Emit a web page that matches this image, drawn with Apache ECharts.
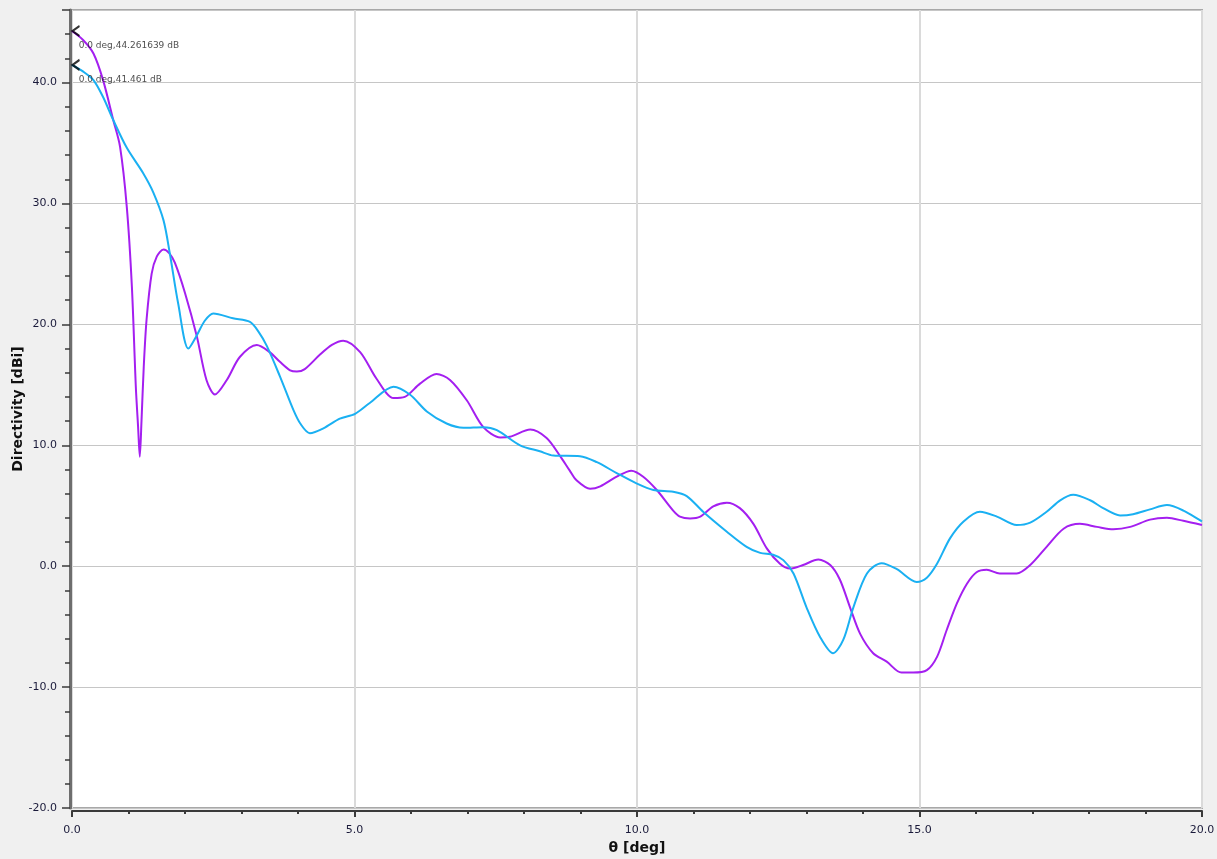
<!DOCTYPE html>
<html>
<head>
<meta charset="utf-8">
<script src="https://cdn.jsdelivr.net/npm/echarts@6/dist/echarts.min.js"></script>
<style>
html,body{margin:0;padding:0;background:#f0f0f0;}
#chart{width:1217px;height:859px;}
</style>
</head>
<body>
<div id="chart"></div>
<script>
// Purple curve
const thetaPurple = [0, 0.2, 0.38, 0.55, 0.73, 0.85, 0.97, 1.06, 1.13, 1.17, 1.20, 1.23, 1.27, 1.32, 1.41, 1.50, 1.62, 1.72, 1.82, 2.0,
  2.21, 2.38, 2.53, 2.74, 2.97, 3.27, 3.5, 3.68, 3.86, 3.98, 4.12, 4.39, 4.6, 4.80, 5.10, 5.39, 5.69, 5.89, 6.16, 6.45,
  6.69, 6.99, 7.28, 7.58, 7.75, 8.11, 8.40, 8.64, 8.81, 8.93, 9.17, 9.35, 9.64, 9.90, 10.11, 10.35, 10.64, 10.76, 10.94, 11.12,
  11.35, 11.59, 11.82, 12.06, 12.30, 12.53, 12.71, 12.94, 13.21, 13.42, 13.59, 13.77, 13.95, 14.18, 14.42, 14.68, 14.89, 15.13, 15.31, 15.48,
  15.66, 15.84, 16.01, 16.19, 16.42, 16.72, 16.96, 17.25, 17.55, 17.84, 18.14, 18.43, 18.73, 19.08, 19.38, 19.67, 20.0];
const dirPurple = [44.26, 43.5, 42.4, 40.2, 36.9, 34.7, 29.7, 23.1, 14.8, 11.5, 9.05, 12.0, 16.5, 20.4, 24.2, 25.6, 26.2, 25.9, 25.1, 22.6,
  19.0, 15.4, 14.2, 15.4, 17.3, 18.3, 17.7, 16.9, 16.2, 16.1, 16.3, 17.5, 18.3, 18.65, 17.7, 15.5, 13.9, 14.0, 15.1, 15.9,
  15.4, 13.7, 11.5, 10.65, 10.7, 11.3, 10.6, 9.1, 7.9, 7.1, 6.4, 6.6, 7.4, 7.9, 7.4, 6.3, 4.6, 4.1, 3.95, 4.1,
  4.95, 5.25, 4.8, 3.5, 1.45, 0.2, -0.2, 0.1, 0.55, 0.1, -1.1, -3.4, -5.6, -7.2, -7.9, -8.8, -8.8, -8.6, -7.5, -5.3,
  -3.1, -1.45, -0.5, -0.3, -0.6, -0.6, 0.1, 1.6, 3.1, 3.5, 3.25, 3.05, 3.25, 3.85, 4.0, 3.75, 3.4];

// Blue curve
const thetaBlue = [0, 0.2, 0.38, 0.55, 0.73, 0.97, 1.26, 1.44, 1.62, 1.73, 1.88, 2.06, 2.21, 2.35, 2.50, 2.85, 3.15, 3.30, 3.45, 3.68,
  3.92, 4.04, 4.21, 4.45, 4.74, 5.01, 5.27, 5.69, 5.98, 6.28, 6.63, 6.93, 7.28, 7.52, 7.93, 8.28, 8.52, 8.99, 9.29, 9.64,
  9.99, 10.29, 10.64, 10.88, 11.17, 11.59, 11.94, 12.18, 12.41, 12.59, 12.77, 13.0, 13.24, 13.47, 13.65, 13.83, 14.07, 14.33, 14.60, 14.95,
  15.13, 15.31, 15.54, 15.78, 16.07, 16.37, 16.72, 16.96, 17.25, 17.49, 17.72, 18.02, 18.25, 18.55, 18.78, 19.08, 19.38, 19.67, 20.0];
const dirBlue = [41.46, 40.9, 40.2, 38.8, 36.9, 34.6, 32.5, 30.9, 28.6, 25.9, 21.7, 18.0, 19.1, 20.3, 20.9, 20.5, 20.2, 19.4, 18.2, 15.7,
  12.9, 11.8, 11.0, 11.4, 12.2, 12.6, 13.5, 14.85, 14.2, 12.8, 11.8, 11.45, 11.5, 11.25, 10.0, 9.5, 9.15, 9.1, 8.6, 7.7,
  6.85, 6.3, 6.15, 5.8, 4.5, 2.85, 1.6, 1.1, 0.95, 0.5, -0.6, -3.4, -5.85, -7.2, -6.1, -3.4, -0.6, 0.25, -0.25, -1.3,
  -0.95, 0.2, 2.3, 3.7, 4.5, 4.1, 3.4, 3.6, 4.5, 5.45, 5.9, 5.45, 4.8, 4.2, 4.3, 4.7, 5.05, 4.6, 3.7];

// Peak markers
const markerTheta = [0.0, 0.0];
const markerValue = ['44.261639', '41.461'];

const purple = '#a41ff0';
const blue = '#1ab0f2';

function pairs(xs, ys) { return xs.map((x, i) => [x, ys[i]]); }

const chart = echarts.init(document.getElementById('chart'));
const font = 'DejaVu Sans';
chart.setOption({
  animation: false,
  backgroundColor: '#f0f0f0',
  grid: {
    left: 72, right: 15, top: 10, bottom: 51, containLabel: false, outerBoundsMode: 'none',
    show: true, backgroundColor: '#ffffff', borderColor: '#a8a8a8', borderWidth: 2
  },
  xAxis: {
    type: 'value', min: 0, max: 20, interval: 5, offset: 3,
    name: 'θ [deg]', nameLocation: 'middle', nameGap: 30, nameMoveOverlap: false,
    nameTextStyle: { fontFamily: font, fontWeight: 'bold', fontSize: 14, color: '#111' },
    axisLine: { show: true, onZero: false, lineStyle: { color: '#3a3a3a', width: 2 } },
    axisTick: { show: true, length: 6, lineStyle: { color: '#3a3a3a', width: 2 } },
    minorTick: { show: true, splitNumber: 5, length: 3, lineStyle: { color: '#3a3a3a', width: 2 } },
    axisLabel: { margin: 14, fontFamily: font, fontSize: 11, color: '#1a1a3a', formatter: v => v.toFixed(1) },
    splitLine: { show: true, lineStyle: { color: '#dadada', width: 2 } }
  },
  yAxis: [{
    type: 'value', min: -20, max: 46, interval: 10, offset: 2,
    name: 'Directivity [dBi]', nameLocation: 'middle', nameGap: 45, nameRotate: 90, nameMoveOverlap: false,
    nameTextStyle: { fontFamily: font, fontWeight: 'bold', fontSize: 14, color: '#111' },
    axisLine: { show: true, onZero: false, lineStyle: { color: '#6e6e6e', width: 3 } },
    axisTick: { show: true, length: 8, lineStyle: { color: '#3a3a3a', width: 1.5 } },
    axisLabel: { margin: 13, fontFamily: font, fontSize: 11, color: '#1a1a3a',
      formatter: v => (Math.abs(v % 10) < 1e-9 ? v.toFixed(1) : '') },
    splitLine: { show: true, lineStyle: { color: '#c6c6c6', width: 1 } }
  }, {
    type: 'value', min: -20, max: 46, interval: 2, offset: 2, position: 'left',
    axisLine: { show: false, onZero: false },
    axisTick: { show: true, length: 5, lineStyle: { color: '#3a3a3a', width: 1.5 } },
    axisLabel: { show: false },
    splitLine: { show: false }
  }],
  series: [{
    type: 'line', name: 'purple', data: pairs(thetaPurple, dirPurple),
    showSymbol: false, smooth: 0.3, lineStyle: { color: purple, width: 2 }, itemStyle: { color: purple }
  }, {
    type: 'line', name: 'blue', data: pairs(thetaBlue, dirBlue),
    showSymbol: false, smooth: 0.3, lineStyle: { color: blue, width: 2 }, itemStyle: { color: blue }
  }, {
    type: 'scatter',
    data: markerTheta.map((t, i) => ({
      value: [t, parseFloat(markerValue[i])],
      label: { formatter: t.toFixed(1) + ' deg,' + markerValue[i] + ' dB' }
    })),
    symbol: 'path://M10,0 L0,6 L10,12',
    symbolSize: [7, 10],
    symbolOffset: [4, 0],
    itemStyle: { color: 'rgba(0,0,0,0)', borderColor: '#000', borderWidth: 2 },
    label: { show: true, position: [7, 16], align: 'left', verticalAlign: 'top',
      fontFamily: font, fontSize: 9, color: '#222' },
    z: 5, silent: true
  }]
});
</script>
</body>
</html>
